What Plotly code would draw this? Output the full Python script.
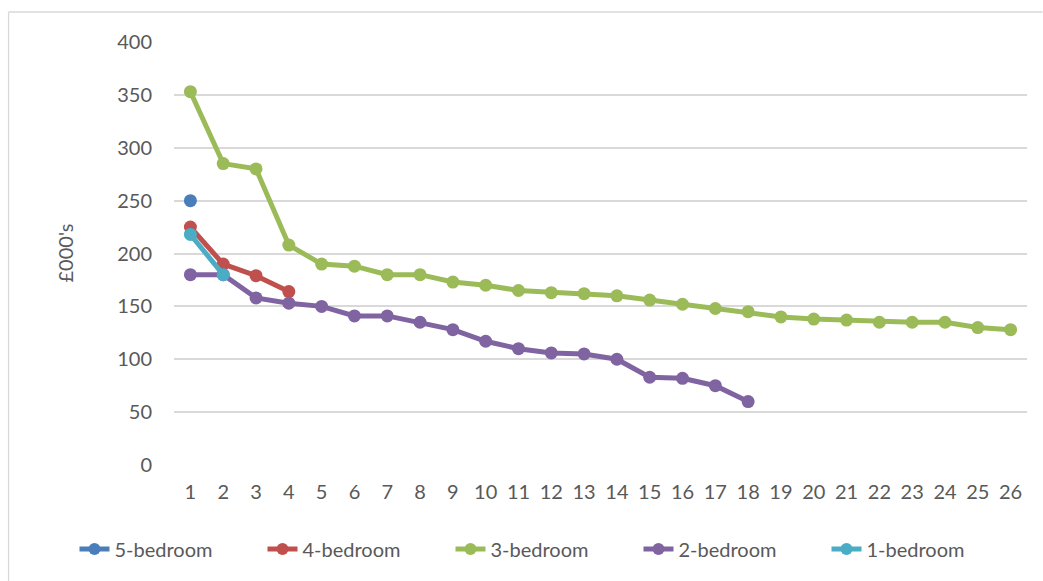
import plotly.graph_objects as go

categories = list(range(1, 27))
tick_labels = [str(c) for c in categories]

five_bed = [250]
four_bed = [225, 190, 179, 164]
three_bed = [353, 285, 280, 208, 190, 188, 180, 180, 173, 170, 165, 163, 162,
             160, 156, 152, 148, 145, 140, 138, 137, 135, 135, 135, 130, 128]
two_bed = [180, 180, 158, 153, 150, 141, 141, 135, 128, 117, 110, 106, 105,
           100, 83, 82, 75, 60]
one_bed = [218, 180]

series = [
    ("5-bedroom", five_bed, "#4A7EBB"),
    ("4-bedroom", four_bed, "#C0504D"),
    ("3-bedroom", three_bed, "#9BBB59"),
    ("2-bedroom", two_bed, "#8064A2"),
    ("1-bedroom", one_bed, "#4BACC6"),
]

FONT = "Lato"
TXT = "#595959"
FS = 20

fig = go.Figure()
for name, vals, col in series:
    fig.add_trace(go.Scatter(
        x=categories[:len(vals)], y=vals, name=name, mode="lines+markers",
        line=dict(color=col, width=5),
        marker=dict(color=col, size=13),
    ))

W, H = 1043, 581
L, R, T, B = 173.6, 15.6, 42, 116
pw = W - L - R
ph = H - T - B

fig.update_layout(
    width=W, height=H,
    margin=dict(l=L, r=R, t=T, b=B, pad=0),
    paper_bgcolor="white", plot_bgcolor="white",
    font=dict(family=FONT, size=FS, color=TXT),
    showlegend=True,
    legend=dict(orientation="h", x=(74 - L) / pw, xanchor="left",
                y=(465 - 549) / ph, yanchor="middle",
                entrywidth=143, entrywidthmode="pixels",
                font=dict(family=FONT, size=FS, color=TXT),
                itemsizing="constant", tracegroupgap=0),
    xaxis=dict(range=[0.5, 26.5], tickmode="array", tickvals=categories,
               ticktext=tick_labels, showgrid=False, zeroline=False,
               showline=False, ticks="", ticklabelstandoff=13,
               fixedrange=True),
    yaxis=dict(range=[0, 400], tickmode="array",
               tickvals=[0, 50, 100, 150, 200, 250, 300, 350, 400],
               showgrid=True, gridcolor="#D9D9D9", gridwidth=1.5,
               zeroline=False, showline=False, ticks="",
               ticklabelstandoff=21, fixedrange=True),
    annotations=[dict(text="£000's", textangle=-90, xref="paper", yref="paper",
                      x=(64 - L) / pw, y=(465 - 253) / ph, showarrow=False,
                      xanchor="center", yanchor="middle",
                      font=dict(family=FONT, size=FS, color=TXT))],
    shapes=[
        dict(type="line", xref="paper", yref="paper",
             x0=(8 - L) / pw, x1=(1043 - L) / pw,
             y0=(465 - 12) / ph, y1=(465 - 12) / ph,
             line=dict(color="#D9D9D9", width=1.3)),
        dict(type="line", xref="paper", yref="paper",
             x0=(8 - L) / pw, x1=(8 - L) / pw,
             y0=(465 - 12) / ph, y1=(465 - 581) / ph,
             line=dict(color="#D9D9D9", width=1.3)),
    ],
)

fig.write_html("out.html")
